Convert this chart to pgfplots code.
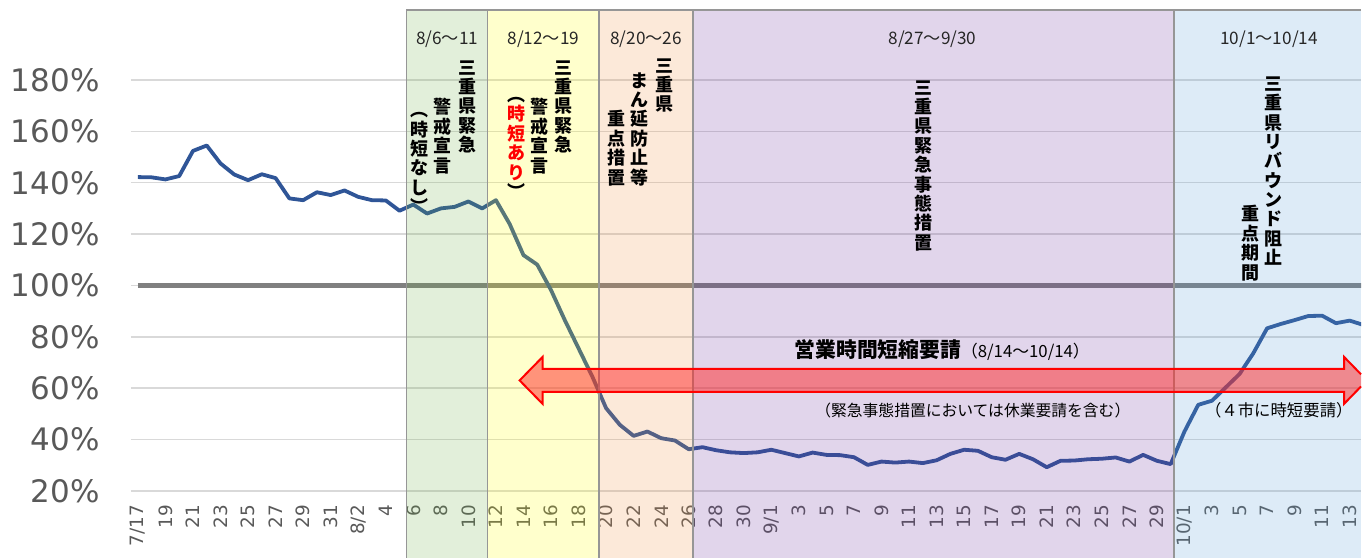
\documentclass[border=0pt]{standalone}
\usepackage{fontspec}
\setmainfont{DejaVu Sans}
\newfontfamily\cjk{Noto Sans CJK JP}
\usepackage{pgfplots}
\pgfplotsset{compat=1.18}
\definecolor{lineblue}{RGB}{47,85,151}
\definecolor{gridgray}{RGB}{217,217,217}
\definecolor{tickgray}{RGB}{89,89,89}
\definecolor{hundred}{RGB}{128,128,128}
\definecolor{cgreen}{RGB}{110,175,70}
\definecolor{cyellow}{RGB}{255,255,0}
\definecolor{corange}{RGB}{240,145,65}
\definecolor{cpurple}{RGB}{105,45,155}
\definecolor{cblue}{RGB}{85,155,215}
\definecolor{bordergray}{RGB}{150,150,150}
\definecolor{arrowfill}{RGB}{255,40,40}
\tikzset{
  vcol/.style={font=\cjk\bfseries\fontsize{9}{9.7}\selectfont, align=center, inner sep=0pt, anchor=north},
  toplab/.style={font=\cjk\fontsize{8.6}{8.6}\selectfont, inner sep=0pt, text=black!85},
}
\begin{document}
\begin{tikzpicture}
\begin{axis}[
  at={(0,0)}, anchor=south west,
  scale only axis, width=615.5pt, height=245.5pt,
  xmin=-0.508, xmax=88.82, ymin=20, ymax=211.1,
  axis line style={draw=none},
  major tick length=0pt,
  set layers, clip mode=individual,
  ytick={20,40,...,180},
  yticklabels={20\%,40\%,60\%,80\%,100\%,120\%,140\%,160\%,180\%},
  xtick={0,2,...,88},
  xticklabels={7/17,19,21,23,25,27,29,31,8/2,4,6,8,10,12,14,16,18,20,22,24,26,28,30,9/1,3,5,7,9,11,13,15,17,19,21,23,25,27,29,10/1,3,5,7,9,11,13},
  ymajorgrids, grid style={line width=0.75pt, draw=gridgray},
  yticklabel style={font=\fontsize{15.5}{15.5}\selectfont, text=tickgray, anchor=east, inner sep=0pt, xshift=-15.5pt},
  xticklabel style={font=\fontsize{9.2}{9.2}\selectfont, text=tickgray, rotate=90, anchor=east, inner sep=0pt},
  xticklabel shift=7pt,
]
\addplot[hundred, line width=2.2pt] coordinates {(0,100) (89,100)};
\addplot[lineblue, line width=1.9pt, line join=round] coordinates {
(0,142.2) (1,142.1) (2,141.3) (3,142.6) (4,152.4) (5,154.5) (6,147.5) (7,143.2) (8,141.0) (9,143.3)
(10,141.8) (11,133.9) (12,133.2) (13,136.3) (14,135.2) (15,137.0) (16,134.5) (17,133.2) (18,133.1) (19,129.1)
(20,131.5) (21,128.0) (22,130.0) (23,130.6) (24,132.7) (25,130.0) (26,133.2) (27,123.9) (28,111.8) (29,108.1)
(30,98.2) (31,86.5) (32,75.5) (33,64.5) (34,52.2) (35,45.7) (36,41.4) (37,43.1) (38,40.5) (39,39.6)
(40,36.2) (41,37.0) (42,35.8) (43,35.0) (44,34.7) (45,35.0) (46,36.0) (47,34.7) (48,33.4) (49,34.9)
(50,34.0) (51,33.9) (52,33.1) (53,30.1) (54,31.4) (55,31.0) (56,31.4) (57,30.8) (58,31.9) (59,34.4)
(60,36.0) (61,35.6) (62,33.1) (63,32.1) (64,34.4) (65,32.3) (66,29.2) (67,31.7) (68,31.8) (69,32.3)
(70,32.5) (71,33.0) (72,31.4) (73,34.0) (74,31.7) (75,30.4) (76,43.1) (77,53.5) (78,55.1) (79,60.3)
(80,65.5) (81,73.6) (82,83.3) (83,85.0) (84,86.5) (85,88.1) (86,88.2) (87,85.3) (88,86.3) (89,84.6)
};
\path (axis cs:-0.508,20) ++(-65.5pt,0pt);
\begin{pgfonlayer}{axis foreground}
\fill[cgreen, fill opacity=0.2] (axis cs:19.5,-6.07) rectangle (axis cs:25.4,207.2);
\fill[cyellow, fill opacity=0.2] (axis cs:25.4,-6.07) rectangle (axis cs:33.5,207.2);
\fill[corange, fill opacity=0.2] (axis cs:33.5,-6.07) rectangle (axis cs:40.3,207.2);
\fill[cpurple, fill opacity=0.2] (axis cs:40.3,-6.07) rectangle (axis cs:75.25,207.2);
\fill[cblue, fill opacity=0.2] (axis cs:75.25,-6.07) rectangle (axis cs:88.82,207.2);
\draw[bordergray, line width=0.75pt]
  (axis cs:19.5,-6.07) -- (axis cs:19.5,207.2) -- (axis cs:88.82,207.2)
  (axis cs:25.4,-6.07) -- (axis cs:25.4,207.2)
  (axis cs:33.5,-6.07) -- (axis cs:33.5,207.2)
  (axis cs:40.3,-6.07) -- (axis cs:40.3,207.2)
  (axis cs:75.25,-6.07) -- (axis cs:75.25,207.2);
% arrow
\fill[arrowfill, fill opacity=0.5]
  (axis cs:29.39,67.49) -- (axis cs:87.59,67.49) -- (axis cs:87.59,72.16) -- (axis cs:88.82,65.39)
  -- (axis cs:88.82,60.64) -- (axis cs:87.59,53.87) -- (axis cs:87.59,58.54) -- (axis cs:29.39,58.54)
  -- (axis cs:29.39,53.87) -- (axis cs:27.72,63.01) -- (axis cs:29.39,72.16) -- cycle;
\draw[red, line width=1pt, line join=miter]
  (axis cs:88.82,65.39) -- (axis cs:87.59,72.16) -- (axis cs:87.59,67.49) -- (axis cs:29.39,67.49)
  -- (axis cs:29.39,72.16) -- (axis cs:27.72,63.01) -- (axis cs:29.39,53.87) -- (axis cs:29.39,58.54)
  -- (axis cs:87.59,58.54) -- (axis cs:87.59,53.87) -- (axis cs:88.82,60.64);
% top labels
\node[toplab] at (axis cs:22.45,195.9) {8/6～11};
\node[toplab] at (axis cs:29.45,195.9) {8/12～19};
\node[toplab] at (axis cs:36.9,195.9) {8/20～26};
\node[toplab] at (axis cs:57.7,195.9) {8/27～9/30};
\node[toplab] at (axis cs:82.15,195.9) {10/1～10/14};
% vertical texts
\node[vcol] at (axis cs:23.95,187.8) {三\\重\\県\\緊\\急};
\node[vcol] at (axis cs:22.13,173.0) {警\\戒\\宣\\言};
\node[vcol] at (axis cs:20.46,167.5) {︵\\時\\短\\な\\し\\︶};
\node[vcol] at (axis cs:30.87,187.8) {三\\重\\県\\緊\\急};
\node[vcol] at (axis cs:29.17,173.0) {警\\戒\\宣\\言};
\node[vcol] at (axis cs:27.48,173.4) {︵\\\color{red}時\\\color{red}短\\\color{red}あ\\\color{red}り\\︶};
\node[vcol] at (axis cs:38.24,188.55) {三\\重\\県};
\node[vcol] at (axis cs:36.43,183.1) {ま\\ん\\延\\防\\止\\等};
\node[vcol] at (axis cs:34.74,168.3) {重\\点\\措\\置};
\node[vcol] at (axis cs:57.04,180.0) {三\\重\\県\\緊\\急\\事\\態\\措\\置};
\node[vcol] at (axis cs:82.44,181.5) {三\\重\\県\\リ\\バ\\ウ\\ン\\ド\\阻\\止};
\node[vcol] at (axis cs:80.77,131.3) {重\\点\\期\\間};
% arrow texts
\node[anchor=west, inner sep=0pt, font=\cjk] at (axis cs:47.67,74.88) {{\bfseries\fontsize{10.4}{10.4}\selectfont 営業時間短縮要請}{\fontsize{8.4}{8.4}\selectfont （8/14～10/14）}};
\node[inner sep=0pt, font=\cjk\fontsize{7.9}{7.9}\selectfont] at (axis cs:60.63,51.14) {（緊急事態措置においては休業要請を含む）};
\node[inner sep=0pt, font=\cjk\fontsize{8.2}{8.2}\selectfont] at (axis cs:82.85,51.5) {（４市に時短要請）};
\end{pgfonlayer}
\end{axis}
\end{tikzpicture}
\end{document}
